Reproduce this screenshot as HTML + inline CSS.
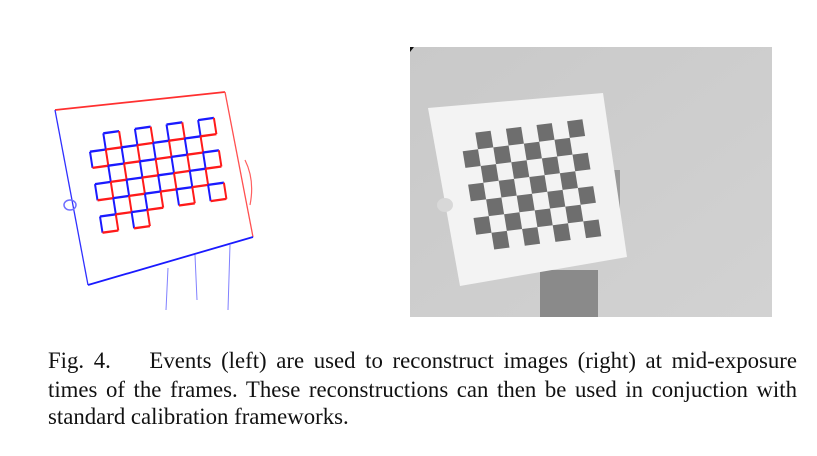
<!DOCTYPE html>
<html><head><meta charset="utf-8"><style>
body{margin:0;width:817px;height:456px;background:#fff;position:relative;overflow:hidden;font-family:"Liberation Serif",serif;}
.l{position:absolute;left:48px;width:749px;font-size:22.8px;line-height:25px;color:#111;text-align:justify;text-align-last:justify;white-space:nowrap;}
.l span{white-space:normal}
</style></head><body>
<svg width="817" height="340" style="position:absolute;left:0;top:0">
<defs>
<linearGradient id="bg" x1="0" y1="0" x2="1" y2="1"><stop offset="0" stop-color="#c9c9c9"/><stop offset="1" stop-color="#d2d2d2"/></linearGradient>
<g id="sq"><line x1="0" y1="0" x2="1" y2="0" stroke="#1a1aff" stroke-width="2.3" vector-effect="non-scaling-stroke"/><line x1="0" y1="0" x2="0" y2="1" stroke="#1a1aff" stroke-width="2" vector-effect="non-scaling-stroke"/><line x1="0" y1="1" x2="1" y2="1" stroke="#ff1a1a" stroke-width="2.3" vector-effect="non-scaling-stroke"/><line x1="1" y1="0" x2="1" y2="1" stroke="#ff1a1a" stroke-width="2" vector-effect="non-scaling-stroke"/></g>
<rect id="dk" width="1" height="1" fill="#6e6e6e"/>
</defs>
<rect x="410" y="47" width="362" height="270" fill="url(#bg)"/>
<path d="M410 47 L414 47 L410 52Z" fill="#111"/>
<rect x="540" y="270" width="58" height="47" fill="#8a8a8a"/>
<rect x="606" y="170" width="14" height="60" fill="#9a9a9a"/>
<polygon points="428,108 603,93 627,257 460,286" fill="#f3f3f3"/>
<ellipse cx="445" cy="205" rx="8" ry="7" fill="#d8d8d8"/>
<g transform="matrix(15.3,-1.9,2.7,16.7,460,134.5)">
<use href="#dk" x="1" y="0"/><use href="#dk" x="3" y="0"/><use href="#dk" x="5" y="0"/><use href="#dk" x="7" y="0"/>
<use href="#dk" x="0" y="1"/><use href="#dk" x="2" y="1"/><use href="#dk" x="4" y="1"/><use href="#dk" x="6" y="1"/>
<use href="#dk" x="1" y="2"/><use href="#dk" x="3" y="2"/><use href="#dk" x="5" y="2"/><use href="#dk" x="7" y="2"/>
<use href="#dk" x="0" y="3"/><use href="#dk" x="2" y="3"/><use href="#dk" x="4" y="3"/><use href="#dk" x="6" y="3"/>
<use href="#dk" x="1" y="4"/><use href="#dk" x="3" y="4"/><use href="#dk" x="5" y="4"/><use href="#dk" x="7" y="4"/>
<use href="#dk" x="0" y="5"/><use href="#dk" x="2" y="5"/><use href="#dk" x="4" y="5"/><use href="#dk" x="6" y="5"/>
<use href="#dk" x="1" y="6"/><use href="#dk" x="3" y="6"/><use href="#dk" x="5" y="6"/><use href="#dk" x="7" y="6"/>
</g>
<line x1="55" y1="110" x2="225" y2="92" stroke="#ff3030" stroke-width="1.8"/>
<line x1="225" y1="92" x2="253" y2="237" stroke="#ff5050" stroke-width="1.3"/>
<line x1="55" y1="110" x2="88" y2="285" stroke="#3030ff" stroke-width="1.3"/>
<line x1="88" y1="285" x2="253" y2="237" stroke="#1a1aff" stroke-width="1.8"/>
<path d="M168 268 L166 310 M195 255 L197 300 M230 245 L228 310" stroke="#8080ff" stroke-width="1" fill="none"/>
<path d="M245 160 Q255 180 250 205" stroke="#ff6060" stroke-width="1.2" fill="none"/>
<ellipse cx="70" cy="205" rx="6" ry="5" fill="none" stroke="#7070ff" stroke-width="1.5"/>
<g transform="matrix(15.8,-2.2,2.5,16.2,87.5,135.5)">
<use href="#sq" x="1" y="0"/><use href="#sq" x="3" y="0"/><use href="#sq" x="5" y="0"/><use href="#sq" x="7" y="0"/>
<use href="#sq" x="0" y="1"/><use href="#sq" x="2" y="1"/><use href="#sq" x="4" y="1"/><use href="#sq" x="6" y="1"/>
<use href="#sq" x="1" y="2"/><use href="#sq" x="3" y="2"/><use href="#sq" x="5" y="2"/><use href="#sq" x="7" y="2"/>
<use href="#sq" x="0" y="3"/><use href="#sq" x="2" y="3"/><use href="#sq" x="4" y="3"/><use href="#sq" x="6" y="3"/>
<use href="#sq" x="1" y="4"/><use href="#sq" x="3" y="4"/><use href="#sq" x="5" y="4"/><use href="#sq" x="7" y="4"/>
<use href="#sq" x="0" y="5"/><use href="#sq" x="2" y="5"/>
</g>
</svg>
<div class="l" style="top:348px"><span>Fig. 4. &nbsp;&nbsp; Events (left) are used to reconstruct images (right) at mid-exposure</span></div>
<div class="l" style="top:377px"><span>times of the frames. These reconstructions can then be used in conjuction with</span></div>
<div class="l" style="top:404px;text-align-last:left"><span>standard calibration frameworks.</span></div>
</body></html>
